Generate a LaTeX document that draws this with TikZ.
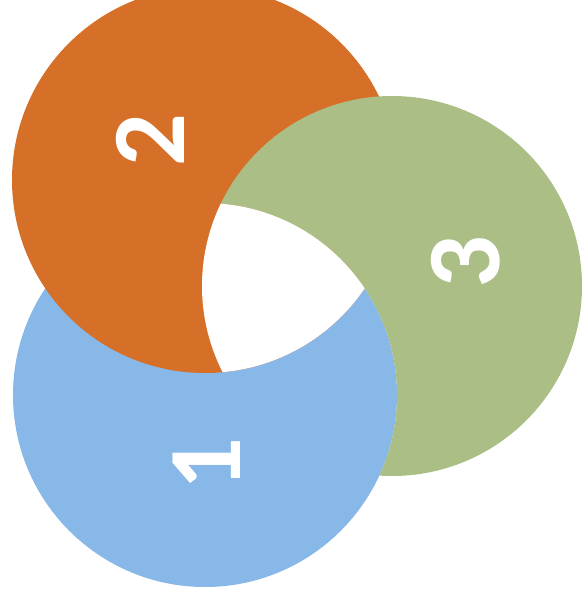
\documentclass[tikz,border=0pt]{standalone}
\usepackage{fontspec}
\setsansfont{Carlito}
\definecolor{blue_c}{RGB}{135,184,232}
\definecolor{orange_c}{RGB}{214,112,40}
\definecolor{green_c}{RGB}{170,190,133}
\tikzset{
  num_label/.style = {inner sep=0pt, text=white, rotate=90,
    font=\sffamily\bfseries\fontsize{74}{74}\selectfont},% chiffre blanc
  disc_blue/.style = {fill=blue_c},
  disc_orange/.style = {fill=orange_c},
  disc_green/.style = {fill=green_c}
}
\begin{document}
\begin{tikzpicture}[x=0.025cm, y=-0.025cm]
  \useasboundingbox (0,0) rectangle (583,600);
  \coordinate (c1) at (205,395);% bleu
  \coordinate (c2) at (205,180);% orange
  \coordinate (c3) at (392,286);% vert
  \path[disc_blue] (c1) circle (192);
  \path[disc_orange] (c2) circle (193);
  % le vert passe sur l'orange, sous le bleu
  \begin{scope}[even odd rule]
    \clip (-20,-20) rectangle (620,620) (c1) circle (192);
    \path[disc_green] (c3) circle (190);
  \end{scope}
  % centre blanc
  \begin{scope}
    \clip (c1) circle (192);
    \clip (c2) circle (193);
    \fill[white] (c3) circle (190);
  \end{scope}
  \node[num_label] (n1) at (207,464) {1};
  \node[num_label] (n2) at (150,140) {2};
  \node[num_label] (n3) at (466,262) {3};
\end{tikzpicture}
\end{document}
